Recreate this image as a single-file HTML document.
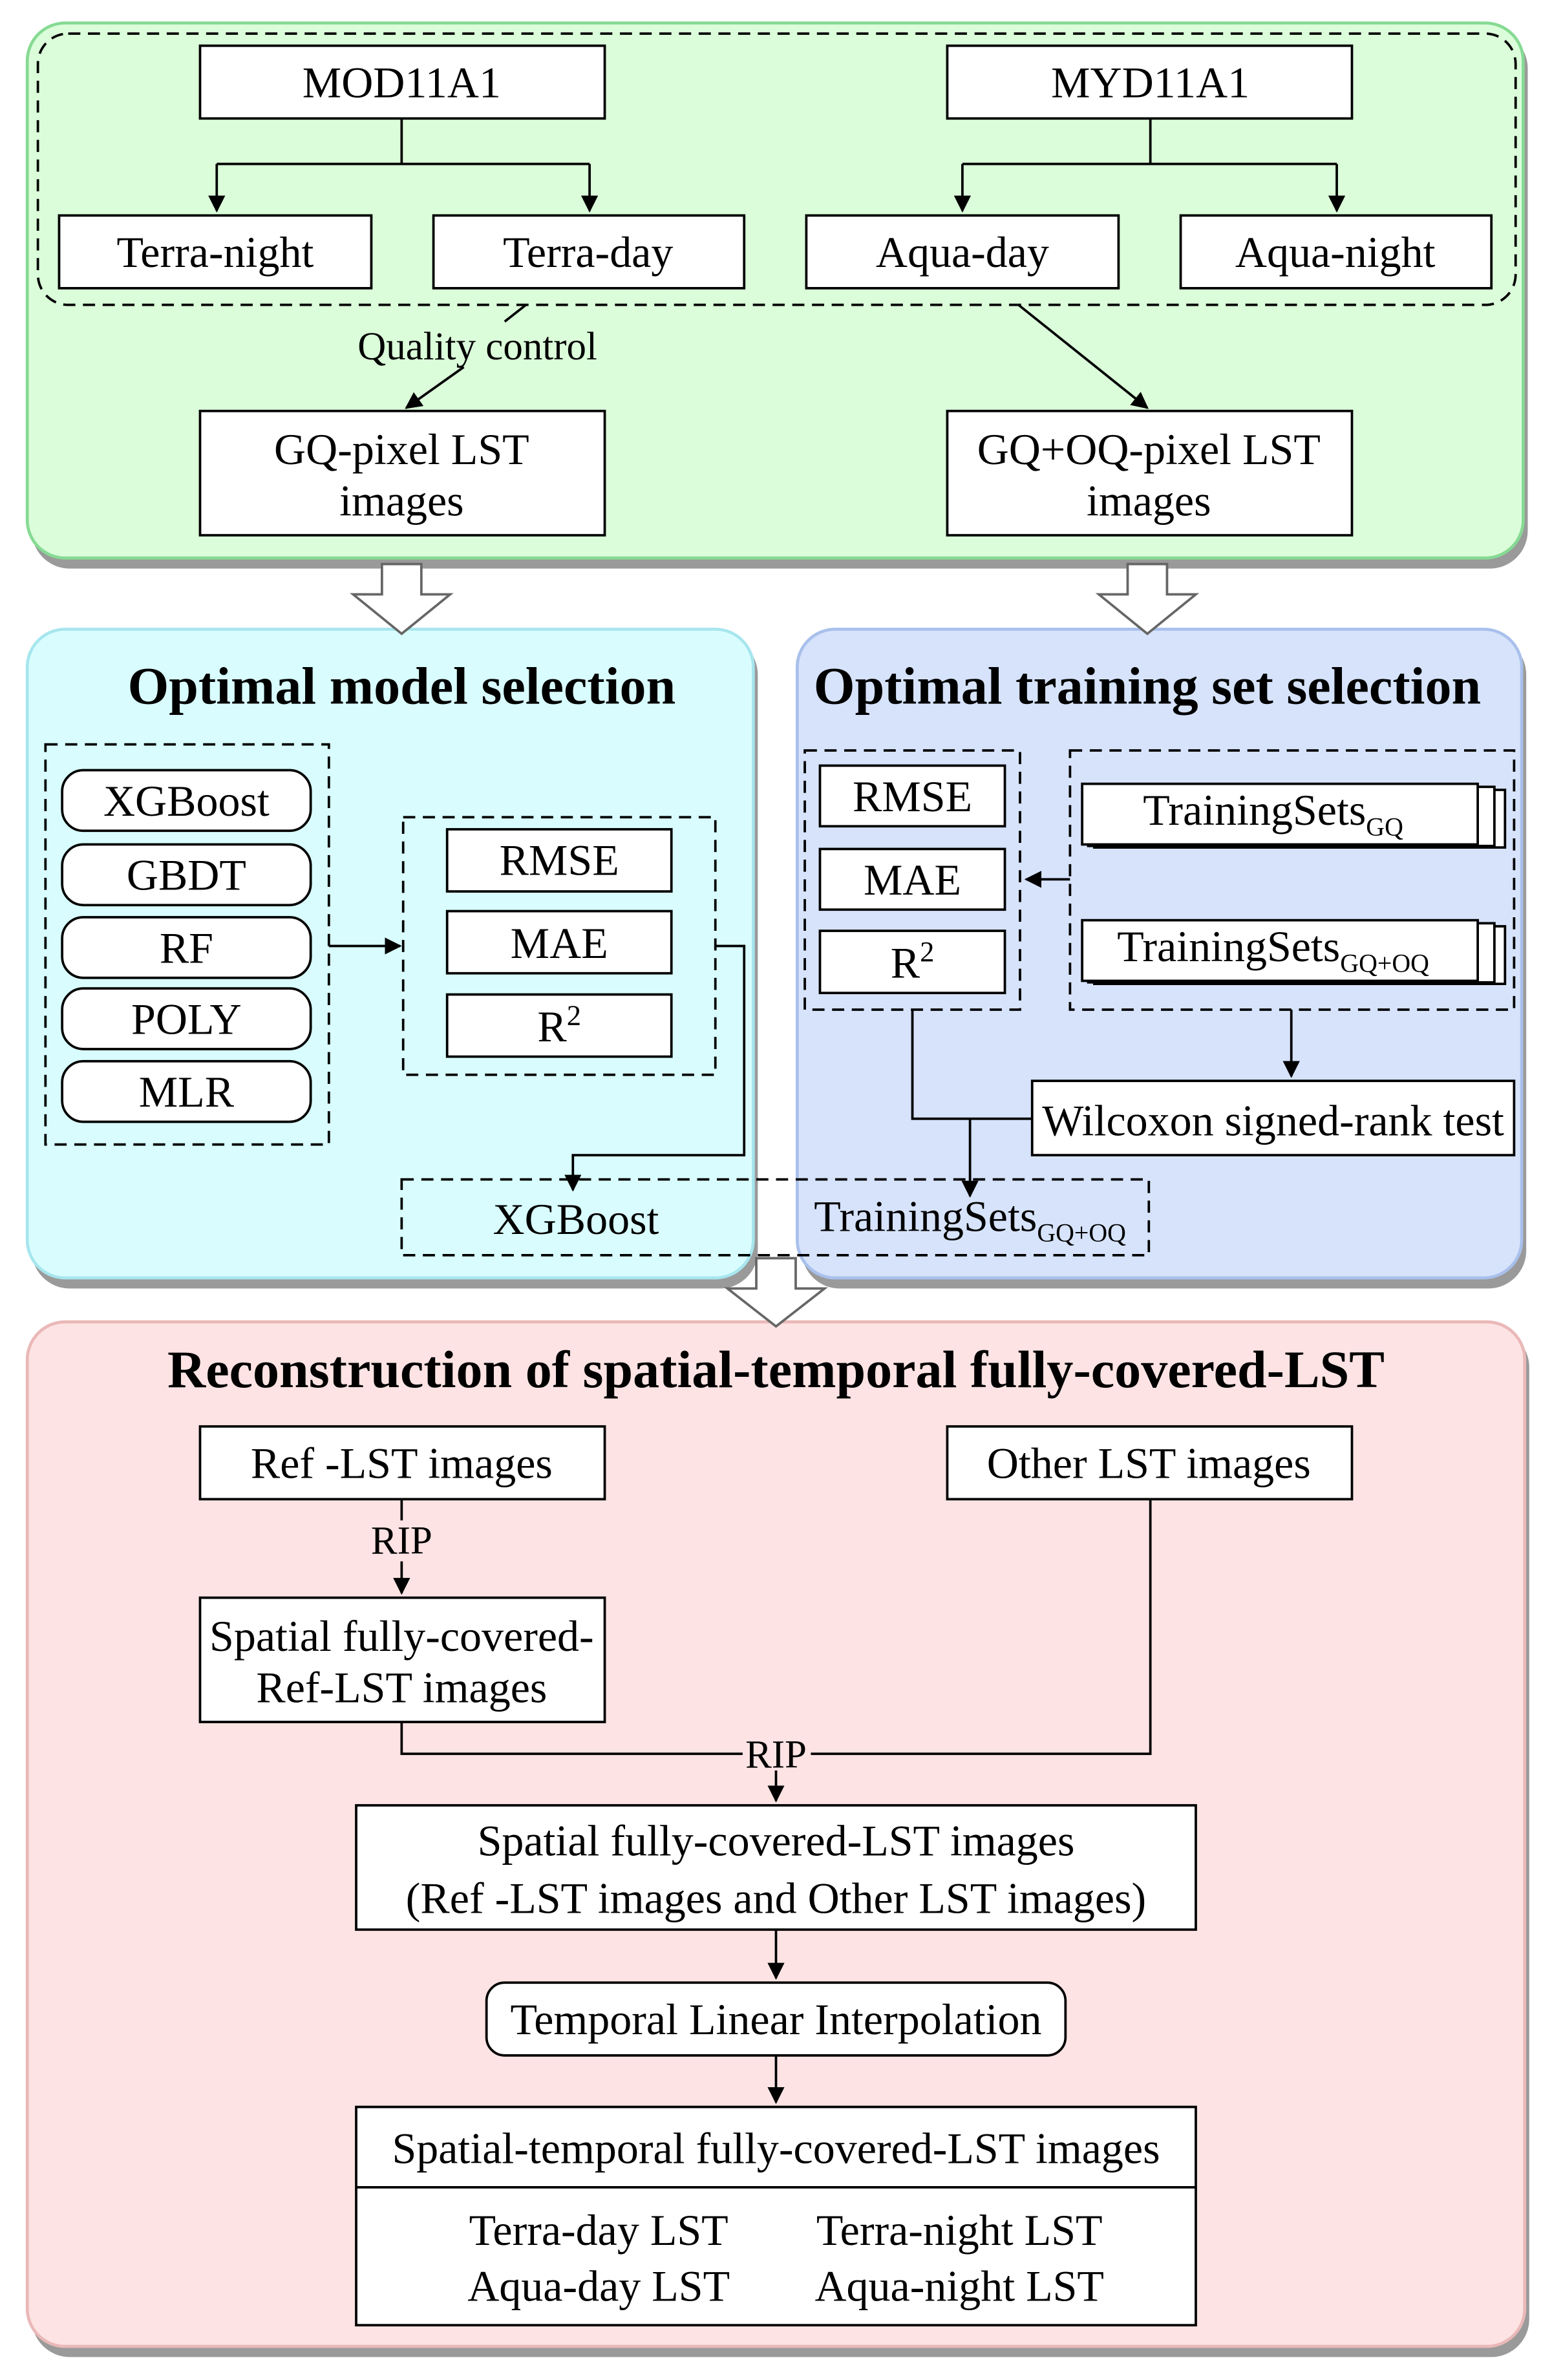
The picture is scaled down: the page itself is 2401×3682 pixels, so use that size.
<!DOCTYPE html>
<html><head><meta charset="utf-8"><style>
html,body{margin:0;padding:0;background:#fff;}
svg{display:block;}
text{font-family:"Liberation Serif",serif;fill:#000;}
</style></head><body>
<svg width="2401" height="3682" viewBox="0 0 1024 1570" xmlns="http://www.w3.org/2000/svg">
<defs>
<marker id="a" viewBox="0 0 10 10" refX="9" refY="5" markerWidth="7" markerHeight="7" orient="auto"><path d="M0,0 L10,5 L0,10 z" fill="#000"/></marker>
</defs>
<g fill="none" stroke="#000" stroke-width="1.6">
<rect x="21" y="20" width="987" height="355" rx="25" fill="#9a9a9a" stroke="none"/>
<rect x="21" y="420" width="479" height="430" rx="25" fill="#9a9a9a" stroke="none"/>
<rect x="529" y="420" width="478" height="430" rx="25" fill="#9a9a9a" stroke="none"/>
<rect x="21" y="877" width="988" height="678" rx="25" fill="#9a9a9a" stroke="none"/>
<rect x="18" y="15" width="987" height="353" rx="25" fill="#dbfdda" stroke="#86da93" stroke-width="2"/>
<rect x="18" y="415" width="479" height="428" rx="25" fill="#d9fdfe" stroke="#a7e6ee" stroke-width="2"/>
<rect x="526" y="415" width="478" height="428" rx="25" fill="#d6e3fb" stroke="#a9c0ec" stroke-width="2"/>
<rect x="18" y="872" width="988" height="676" rx="25" fill="#fde3e3" stroke="#eab8b8" stroke-width="2"/>

<rect x="25" y="22" width="975" height="179" rx="20" stroke-dasharray="8,5"/>
<rect x="132" y="30" width="267" height="48" fill="#fff"/>
<rect x="625" y="30" width="267" height="48" fill="#fff"/>
<path d="M265,78 V108 M143,108 H389"/>
<path d="M143,108 V139" marker-end="url(#a)"/><path d="M389,108 V139" marker-end="url(#a)"/>
<path d="M759,78 V108 M635,108 H882"/>
<path d="M635,108 V139" marker-end="url(#a)"/><path d="M882,108 V139" marker-end="url(#a)"/>
<rect x="39" y="142" width="206" height="48" fill="#fff"/>
<rect x="286" y="142" width="205" height="48" fill="#fff"/>
<rect x="532" y="142" width="206" height="48" fill="#fff"/>
<rect x="779" y="142" width="205" height="48" fill="#fff"/>
<path d="M347,201 L333,212"/>
<path d="M306,242 L268,269" marker-end="url(#a)"/>
<path d="M672,201 L757,269" marker-end="url(#a)"/>
<rect x="132" y="271" width="267" height="82" fill="#fff"/>
<rect x="625" y="271" width="267" height="82" fill="#fff"/>

<path d="M252,372 H278 V392 H297 L265,418 L233,392 H252 Z" fill="#fff" stroke="#666"/>
<path d="M744,372 H770 V392 H789 L757,418 L725,392 H744 Z" fill="#fff" stroke="#666"/>
<path d="M499,830 H525 V850 H544 L512,875 L480,850 H499 Z" fill="#fff" stroke="#666"/>

<rect x="30" y="491" width="187" height="264" stroke-dasharray="8,5"/>
<rect x="41" y="508" width="164" height="40" rx="14" fill="#fff"/>
<rect x="41" y="557" width="164" height="40" rx="14" fill="#fff"/>
<rect x="41" y="605" width="164" height="40" rx="14" fill="#fff"/>
<rect x="41" y="652" width="164" height="40" rx="14" fill="#fff"/>
<rect x="41" y="700" width="164" height="40" rx="14" fill="#fff"/>
<path d="M217,624 H264" marker-end="url(#a)"/>
<rect x="266" y="539" width="206" height="170" stroke-dasharray="8,5"/>
<rect x="295" y="547" width="148" height="41" fill="#fff"/>
<rect x="295" y="601" width="148" height="41" fill="#fff"/>
<rect x="295" y="656" width="148" height="41" fill="#fff"/>
<path d="M472,624 H491 V762 H378 V785" marker-end="url(#a)"/>
<rect x="265" y="778" width="493" height="50" stroke-dasharray="8,5"/>

<rect x="531" y="495" width="142" height="171" stroke-dasharray="8,5"/>
<rect x="541" y="505" width="122" height="40" fill="#fff"/>
<rect x="541" y="560" width="122" height="40" fill="#fff"/>
<rect x="541" y="614" width="122" height="41" fill="#fff"/>
<rect x="706" y="495" width="293" height="171" stroke-dasharray="8,5"/>
<rect x="722" y="521" width="271" height="38" fill="#fff"/>
<rect x="718" y="519" width="268" height="39" fill="#fff"/>
<rect x="714" y="517" width="261" height="40" fill="#fff"/>
<rect x="722" y="611" width="271" height="38" fill="#fff"/>
<rect x="718" y="609" width="268" height="39" fill="#fff"/>
<rect x="714" y="607" width="261" height="40" fill="#fff"/>
<path d="M706,580 H677" marker-end="url(#a)"/>
<path d="M852,666 V710" marker-end="url(#a)"/>
<rect x="681" y="713" width="318" height="49" fill="#fff"/>
<path d="M602,666 V738 H681"/>
<path d="M640,738 V789" marker-end="url(#a)"/>

<rect x="132" y="941" width="267" height="48" fill="#fff"/>
<rect x="625" y="941" width="267" height="48" fill="#fff"/>
<path d="M265,989 V1003"/>
<path d="M265,1030 V1051" marker-end="url(#a)"/>
<rect x="132" y="1054" width="267" height="82" fill="#fff"/>
<path d="M265,1136 V1157 H490 M535,1157 H759 V989"/>
<path d="M512,1168 V1188" marker-end="url(#a)"/>
<rect x="235" y="1191" width="554" height="82" fill="#fff"/>
<path d="M512,1273 V1305" marker-end="url(#a)"/>
<rect x="321" y="1308" width="382" height="48" rx="12" fill="#fff"/>
<path d="M512,1356 V1387" marker-end="url(#a)"/>
<rect x="235" y="1390" width="554" height="144" fill="#fff"/>
<path d="M235,1443 H789"/>
</g>

<g font-size="29" text-anchor="middle">
<text x="265" y="64">MOD11A1</text>
<text x="759" y="64">MYD11A1</text>
<text x="142" y="176">Terra-night</text>
<text x="388" y="176">Terra-day</text>
<text x="635" y="176">Aqua-day</text>
<text x="881" y="176">Aqua-night</text>
<text x="315" y="237" font-size="26">Quality control</text>
<text x="265" y="306">GQ-pixel LST</text>
<text x="265" y="340">images</text>
<text x="758" y="306">GQ+OQ-pixel LST</text>
<text x="758" y="340">images</text>

<text x="265" y="464" font-size="35" font-weight="bold">Optimal model selection</text>
<text x="757" y="464" font-size="35" font-weight="bold">Optimal training set selection</text>
<text x="123" y="538">XGBoost</text>
<text x="123" y="587">GBDT</text>
<text x="123" y="635">RF</text>
<text x="123" y="682">POLY</text>
<text x="123" y="730">MLR</text>
<text x="369" y="577">RMSE</text>
<text x="369" y="632">MAE</text>
<text x="369" y="687">R<tspan font-size="19" dy="-11">2</tspan></text>
<text x="380" y="814">XGBoost</text>
<text x="602" y="535">RMSE</text>
<text x="602" y="590">MAE</text>
<text x="602" y="645">R<tspan font-size="19" dy="-11">2</tspan></text>
<text x="840" y="544">TrainingSets<tspan font-size="17" dy="7">GQ</tspan></text>
<text x="840" y="634">TrainingSets<tspan font-size="17" dy="7">GQ+OQ</tspan></text>
<text x="840" y="749">Wilcoxon signed-rank test</text>
<text x="640" y="812">TrainingSets<tspan font-size="17" dy="7">GQ+OQ</tspan></text>

<text x="512" y="915" font-size="35" font-weight="bold">Reconstruction of spatial-temporal fully-covered-LST</text>
<text x="265" y="975">Ref -LST images</text>
<text x="758" y="975">Other LST images</text>
<text x="265" y="1025" font-size="26">RIP</text>
<text x="265" y="1089">Spatial fully-covered-</text>
<text x="265" y="1123">Ref-LST images</text>
<text x="512" y="1166" font-size="26">RIP</text>
<text x="512" y="1224">Spatial fully-covered-LST images</text>
<text x="512" y="1262">(Ref -LST images and Other LST images)</text>
<text x="512" y="1342">Temporal Linear Interpolation</text>
<text x="512" y="1427">Spatial-temporal fully-covered-LST images</text>
<text x="395" y="1481">Terra-day LST</text>
<text x="633" y="1481">Terra-night LST</text>
<text x="395" y="1518">Aqua-day LST</text>
<text x="633" y="1518">Aqua-night LST</text>
</g>
</svg>
</body></html>
